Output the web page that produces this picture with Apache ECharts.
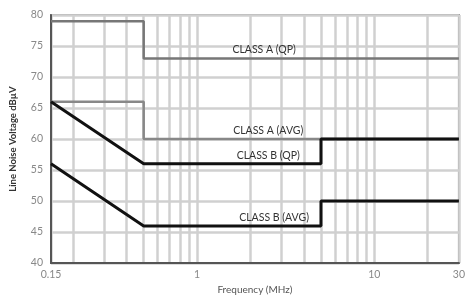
<!DOCTYPE html>
<html>
<head>
<meta charset="utf-8">
<script src="https://cdn.jsdelivr.net/npm/echarts@6/dist/echarts.min.js"></script>
<style>
  html, body { margin: 0; padding: 0; background: #fff; }
  #chart { width: 468px; height: 300px; }
</style>
</head>
<body>
<div id="chart"></div>
<script>
// limit lines, [frequency MHz, dBuV]
const classAQP = [[0.15, 79], [0.5, 79], [0.5, 73], [30, 73]];
const classAAVG = [[0.15, 66], [0.5, 66], [0.5, 60], [30, 60]];
const classBQP = [[0.15, 66], [0.5, 56], [5, 56], [5, 60], [30, 60]];
const classBAVG = [[0.15, 56], [0.5, 46], [5, 46], [5, 50], [30, 50]];

const xLabels = [0.15, 1, 10, 30];
const xGrid = [0.15, 0.2, 0.3, 0.4, 0.5, 0.6, 0.7, 0.8, 0.9, 1,
  2, 3, 4, 5, 6, 7, 8, 9, 10, 20, 30];

const seriesNames = ['CLASS A (QP)', 'CLASS A (AVG)', 'CLASS B (QP)', 'CLASS B (AVG)'];
// where each name sits (data coords)
const nameSpots = [[2.39, 74.5], [2.52, 61.35], [2.52, 57.4], [2.72, 47.4]];

const chart = echarts.init(document.getElementById('chart'));
const font = 'Lato, "Open Sans", sans-serif';

function line(name, data, color, width, spot) {
  return {
    name,
    type: 'line',
    data,
    symbol: 'none',
    silent: true,
    lineStyle: { color, width },
    markPoint: {
      symbol: 'rect',
      symbolSize: 1,
      itemStyle: { color: 'rgba(0,0,0,0)' },
      label: {
        show: true,
        position: 'inside',
        formatter: name,
        color: '#333',
        fontSize: 10.5,
        fontFamily: font
      },
      data: [{ coord: spot }]
    }
  };
}

chart.setOption({
  animation: false,
  grid: {
    left: 49, right: 4, top: 15, bottom: 32,
    show: true,
    borderColor: '#999',
    borderWidth: 2
  },
  xAxis: {
    type: 'log',
    logBase: 10,
    min: 0.15,
    max: 30,
    name: 'Frequency (MHz)',
    nameLocation: 'middle',
    nameGap: 18,
    nameTextStyle: { color: '#555', fontSize: 10, fontFamily: font },
    axisLine: { show: true, lineStyle: { color: '#555', width: 2 } },
    axisTick: { show: false, customValues: xGrid },
    axisLabel: {
      customValues: xLabels,
      color: '#888',
      fontSize: 10.5,
      fontFamily: font,
      margin: 6,
      formatter: v => String(+v.toPrecision(3))
    },
    splitLine: { show: true, lineStyle: { color: '#d0d0d0', width: 2.5 } },
    minorSplitLine: { show: false }
  },
  yAxis: {
    type: 'value',
    min: 40,
    max: 80,
    interval: 5,
    name: 'Line Noise Voltage dBµV',
    nameLocation: 'middle',
    nameGap: 33,
    nameTextStyle: { color: '#333', fontSize: 9.5, fontWeight: 'bold', fontFamily: font },
    axisLine: { show: true, lineStyle: { color: '#555', width: 2 } },
    axisTick: { show: false },
    axisLabel: { color: '#888', fontSize: 10.5, fontFamily: font, margin: 8 },
    splitLine: { show: true, lineStyle: { color: '#d0d0d0', width: 2.5 } }
  },
  series: [
    line(seriesNames[0], classAQP, '#777', 2.5, nameSpots[0]),
    line(seriesNames[1], classAAVG, '#888', 2.5, nameSpots[1]),
    line(seriesNames[2], classBQP, '#111', 3, nameSpots[2]),
    line(seriesNames[3], classBAVG, '#111', 3, nameSpots[3])
  ]
});

window.addEventListener('resize', () => chart.resize());
</script>
</body>
</html>
